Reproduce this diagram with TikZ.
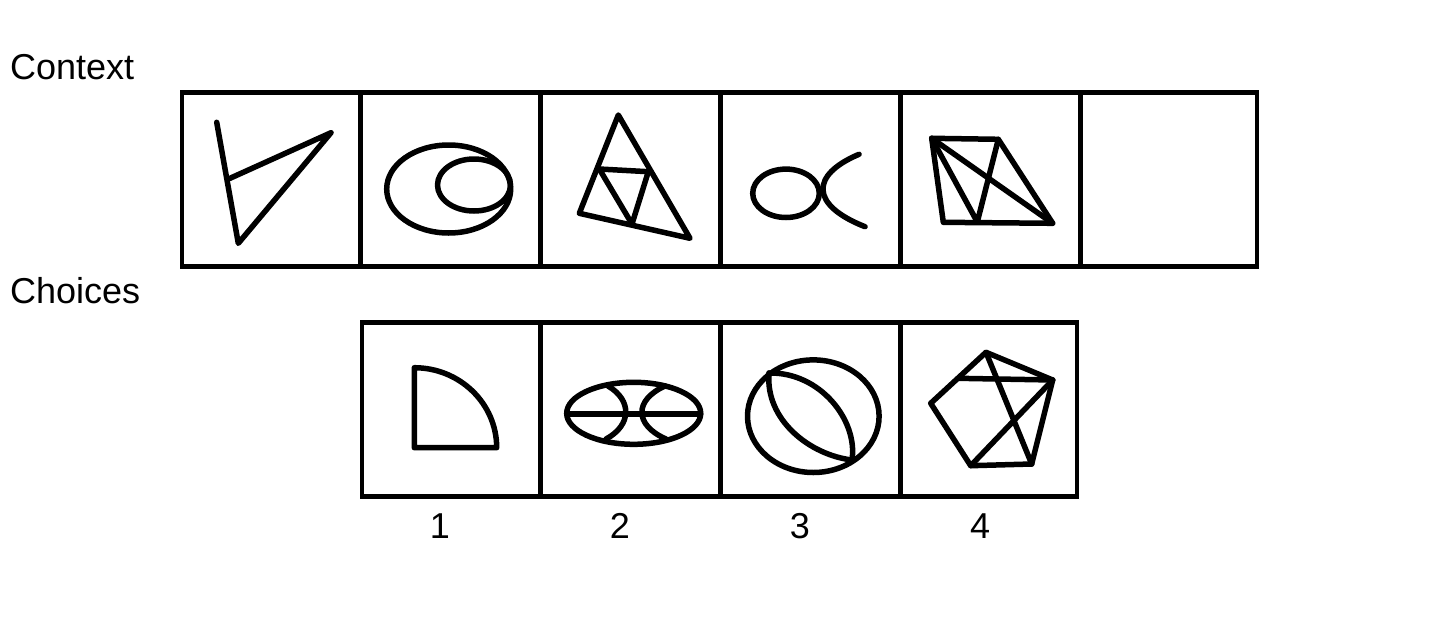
\documentclass[tikz,border=0pt]{standalone}
\usepackage{fontspec}
\setmainfont{Liberation Sans}
\begin{document}
\begin{tikzpicture}[x=1pt,y=-1pt,
  cell/.style={draw,line width=4.5pt,rectangle,inner sep=0pt,minimum height=174pt},
  fig/.style={line width=5.5pt,line cap=round,line join=round},
  lbl/.style={font=\fontsize{36}{40}\selectfont,inner sep=0pt}]
\useasboundingbox[fill=white] (0,0) rectangle (1440,640);
% context cells
\node[cell,minimum width=178.5pt] (t1) at (271.25,179.5) {};
\node[cell,minimum width=180pt] (t2) at (450.5,179.5) {};
\node[cell,minimum width=180pt] (t3) at (630.5,179.5) {};
\node[cell,minimum width=180pt] (t4) at (810.5,179.5) {};
\node[cell,minimum width=180pt] (t5) at (990.5,179.5) {};
\node[cell,minimum width=176.5pt] (t6) at (1168.75,179.5) {};
% choice cells
\node[cell,minimum width=178.5pt] (b1) at (451.25,409.5) {};
\node[cell,minimum width=180pt] (b2) at (630.5,409.5) {};
\node[cell,minimum width=180pt] (b3) at (810.5,409.5) {};
\node[cell,minimum width=176.5pt] (b4) at (988.75,409.5) {};
% labels
\node[lbl,anchor=base west] (ctx) at (10,79) {Context};
\node[lbl,anchor=base west] (cho) at (10,303) {Choices};
\node[lbl,anchor=base] (n1) at (440,538) {1};
\node[lbl,anchor=base] (n2) at (620,538) {2};
\node[lbl,anchor=base] (n3) at (800,538) {3};
\node[lbl,anchor=base] (n4) at (980,538) {4};
% panel 1
\draw[fig] (216.7,122.3) -- (238.3,243.3) -- (331,132.7) -- (230,178.3);
% panel 2
\draw[fig] (448.7,189) ellipse[x radius=62,y radius=44];
\draw[fig] (474,185) ellipse[x radius=36.5,y radius=26];
% panel 3
\draw[fig] (618.3,115) -- (579.3,213.3) -- (690,238.3) -- cycle;
\draw[fig] (599.3,169) -- (648.3,171.7) -- (632,224) -- cycle;
% panel 4
\draw[fig] (786,193.3) ellipse[x radius=33.3,y radius=24.2];
\draw[fig] (859,154.3) .. controls (810,175) and (810,205) .. (865,226.7);
% panel 5
\draw[fig] (931.7,138.3) -- (998.3,139.3) -- (1052.7,223.3) -- (943.3,222.3) -- cycle;
\draw[fig] (931.7,138.3) -- (1052.7,223.3);
\draw[fig] (931.7,138.3) -- (977.3,222) -- (998.3,139.3);
% choice 1
\draw[fig] (496.7,447.7) -- (414.3,447.7) -- (414.3,367.7) arc[start angle=90,end angle=0,x radius=82.4,y radius=-80];
% choice 2
\draw[fig] (633.7,413.3) ellipse[x radius=67,y radius=31];
\draw[fig] (566.7,414) -- (700.7,414);
\draw[fig] (608,386) .. controls (632,400) and (632,425) .. (606,439);
\draw[fig] (665,386) .. controls (634,400) and (634,425) .. (666,439);
% choice 3
\draw[fig] (813.3,416.2) ellipse[x radius=65.8,y radius=56.3];
\draw[fig] (769,373) .. controls (820,372) and (858,420) .. (852,460);
\draw[fig] (769,373) .. controls (765,420) and (810,455) .. (852,460);
% choice 4
\draw[fig] (986,352.3) -- (1052.7,380) -- (1031.7,464) -- (970.7,465.7) -- (930.7,403.3) -- cycle;
\draw[fig] (958,378.3) -- (1052.7,380);
\draw[fig] (986,352.3) -- (1031.7,464);
\draw[fig] (1052.7,380) -- (970.7,465.7);
\end{tikzpicture}
\end{document}
